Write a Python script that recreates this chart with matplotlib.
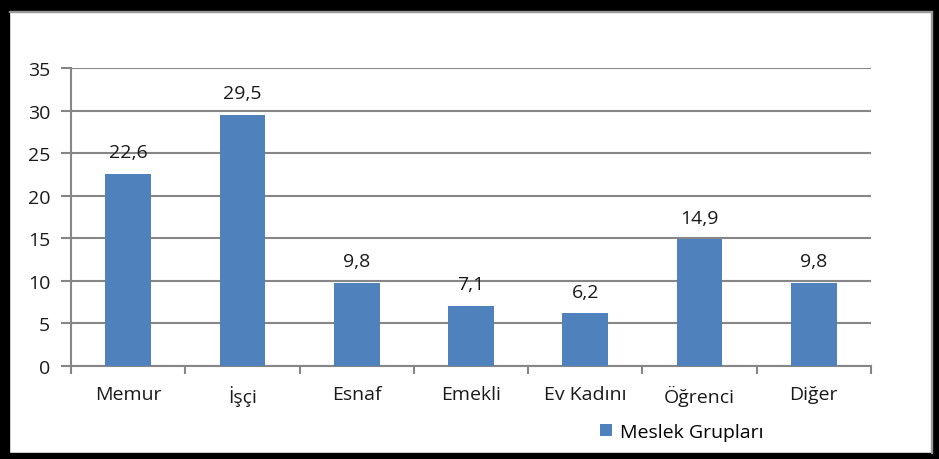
import matplotlib
matplotlib.use('Agg')
import matplotlib.pyplot as plt
from matplotlib.patches import Rectangle
import numpy as np

categories = ['Memur', 'İşçi', 'Esnaf', 'Emekli', 'Ev Kadını', 'Öğrenci', 'Diğer']
values = [22.6, 29.5, 9.8, 7.1, 6.2, 14.9, 9.8]
labels = ['22,6', '29,5', '9,8', '7,1', '6,2', '14,9', '9,8']
series_name = 'Meslek Grupları'

W, H = 939, 460
plt.rcParams['font.family'] = ['Open Sans', 'DejaVu Sans']
fig = plt.figure(figsize=(W / 100, H / 100), dpi=100)
fig.patch.set_facecolor('white')

ax = fig.add_axes([71 / W, 1 - 367 / H, (871 - 71) / W, (367 - 69) / H])
grid_col = '#868686'
txt_col = '#1a1a1a'
fs = 14
x = np.arange(len(categories))
bars = ax.bar(x, values, width=0.4, color='#4F81BD', zorder=3, label=series_name)

for xi, v, lab in zip(x, values, labels):
    ax.annotate(lab, (xi, v), xytext=(0, 9), textcoords='offset points',
                ha='center', va='bottom', fontsize=fs, color=txt_col)

ax.set_xlim(-0.5, len(categories) - 0.5)
ax.set_ylim(0, 35)
ax.set_yticks(np.arange(0, 36, 5))
ax.yaxis.grid(True, color=grid_col, linewidth=1.5, zorder=0)
ax.set_axisbelow(True)

ax.set_xticks(x)
ax.set_xticklabels(categories, fontsize=fs, color=txt_col)
ax.set_xticks(np.arange(-0.5, len(categories), 1), minor=True)
ax.tick_params(axis='x', which='major', length=0, pad=14)
ax.tick_params(axis='x', which='minor', length=6, width=1.5, color=grid_col)
ax.tick_params(axis='y', length=7, width=1.5, color=grid_col, labelsize=fs,
               labelcolor=txt_col, pad=8)

for s in ['top', 'right']:
    ax.spines[s].set_visible(False)
for s in ['left', 'bottom']:
    ax.spines[s].set_color(grid_col)
    ax.spines[s].set_linewidth(1.5)

leg = fig.legend(handles=[bars], labels=[series_name], loc='center',
                 bbox_to_anchor=(682 / W, 1 - 433 / H), frameon=False,
                 fontsize=fs, handlelength=0.6, handleheight=0.6,
                 handletextpad=0.45)

# black frame around the chart
def frame(x0, y0, w, h, col='black'):
    fig.patches.append(Rectangle((x0 / W, 1 - (y0 + h) / H), w / W, h / H,
                                 transform=fig.transFigure, color=col,
                                 zorder=10))

frame(0, 0, W, 12)
frame(0, 0, 9, H)
frame(932, 0, 7, H)
frame(0, 454, W, 6)
frame(9, 12, 923, 1, '#999999')
frame(931, 12, 1, 442, '#999999')

fig.savefig('out.png', dpi=100)
